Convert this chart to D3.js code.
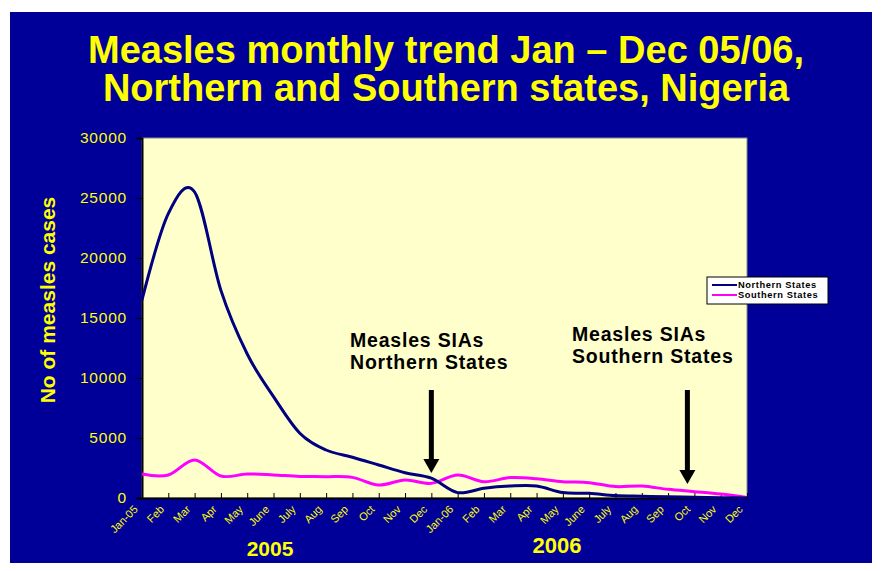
<!DOCTYPE html>
<html>
<head>
<meta charset="utf-8">
<script src="https://cdn.jsdelivr.net/npm/d3@7"></script>
<style>
  html, body { margin: 0; padding: 0; background: #ffffff; }
  svg { display: block; }
  text { font-family: "Liberation Sans", Arial, sans-serif; }
</style>
</head>
<body>
<svg id="chart" width="882" height="571"></svg>
<script>
// ---- data ----
const monthLabels = ["Jan-05","Feb","Mar","Apr","May","June","July","Aug","Sep","Oct","Nov","Dec",
                     "Jan-06","Feb","Mar","Apr","May","June","July","Aug","Sep","Oct","Nov","Dec"];
const northern = [16500, 23700, 25500, 17300, 12000, 8450, 5400, 4000, 3400, 2750, 2100, 1650,
                  450, 820, 1000, 1000, 450, 390, 200, 150, 100, 70, 30, 0];
const southern = [2000, 1920, 3170, 1830, 2000, 1920, 1800, 1780, 1720, 1080, 1500, 1220,
                  1920, 1360, 1700, 1610, 1360, 1280, 950, 1000, 720, 530, 330, 50];
const yTicks = [0, 5000, 10000, 15000, 20000, 25000, 30000];
const seriesNames = ["Northern States", "Southern States"];
const yearLabels = ["2005", "2006"];
const titleLines = ["Measles monthly trend Jan \u2013 Dec 05/06,", "Northern and Southern states, Nigeria"];
const annotations = [
  {lines: ["Measles SIAs", "Northern States"], month: 11},
  {lines: ["Measles SIAs", "Southern States"], month: 21}
];

// ---- layout ----
const svg = d3.select("#chart");
const bg = "#000099", yellow = "#FFFF00", navy = "#000080", pink = "#FF00FF";
const plot = {left: 142, top: 138, right: 747, bottom: 498};

svg.append("rect").attr("x", 10).attr("y", 12).attr("width", 862).attr("height", 551).attr("fill", bg);

// title
svg.selectAll("text.title").data(titleLines).join("text")
  .attr("class", "title")
  .attr("x", 446).attr("y", (d, i) => 63 + i * 38)
  .attr("text-anchor", "middle")
  .attr("font-size", 38).attr("font-weight", "bold")
  .attr("fill", yellow)
  .text(d => d);

const x = d3.scalePoint().domain(d3.range(monthLabels.length)).range([plot.left, plot.right]);
const y = d3.scaleLinear().domain([0, 30000]).range([plot.bottom, plot.top]);

// plot area
svg.append("rect")
  .attr("x", plot.left).attr("y", plot.top)
  .attr("width", plot.right - plot.left).attr("height", plot.bottom - plot.top)
  .attr("fill", "#FFFFCC").attr("stroke", "#888888").attr("stroke-width", 1);

// y axis
const yAxis = svg.append("g").attr("transform", `translate(${plot.left},0)`)
  .call(d3.axisLeft(y).tickValues(yTicks).tickSize(6).tickPadding(9).tickFormat(d3.format("d")));
yAxis.select(".domain").attr("stroke", "#000000").attr("stroke-width", 2);
yAxis.selectAll(".tick line").attr("stroke", "#000000");
yAxis.selectAll(".tick text").attr("fill", yellow).attr("font-size", 15.5)
  .attr("letter-spacing", 0.8).attr("font-family", "Liberation Sans, Arial, sans-serif");

// x axis
const xAxis = svg.append("g").attr("transform", `translate(0,${plot.bottom})`)
  .call(d3.axisBottom(x).tickSize(-5).tickSizeOuter(0).tickFormat(i => monthLabels[i]));
xAxis.select(".domain").attr("stroke", "#000000").attr("stroke-width", 2);
xAxis.selectAll(".tick line").attr("stroke", "#000000");
xAxis.selectAll(".tick text")
  .attr("fill", yellow).attr("font-size", 11)
  .attr("font-family", "Liberation Sans, Arial, sans-serif")
  .attr("text-anchor", "end")
  .attr("dy", null).attr("y", null)
  .attr("transform", "translate(-4,12) rotate(-45)");

// y axis title
svg.append("text")
  .attr("transform", "translate(55,300) rotate(-90)")
  .attr("text-anchor", "middle")
  .attr("font-size", 21).attr("font-weight", "bold").attr("fill", yellow)
  .text("No of measles cases");

// year labels
svg.selectAll("text.year").data(yearLabels).join("text")
  .attr("class", "year")
  .attr("x", (d, i) => i === 0 ? 270 : 557)
  .attr("y", (d, i) => i === 0 ? 556 : 553)
  .attr("text-anchor", "middle")
  .attr("font-size", (d, i) => i === 0 ? 21 : 22).attr("font-weight", "bold").attr("fill", yellow)
  .text(d => d);

// lines
const line = d3.line().x((d, i) => x(i)).y(d => y(d)).curve(d3.curveCardinal.tension(0));
svg.append("path").datum(southern).attr("d", line)
  .attr("fill", "none").attr("stroke", pink).attr("stroke-width", 3);
svg.append("path").datum(northern).attr("d", line)
  .attr("fill", "none").attr("stroke", navy).attr("stroke-width", 3);

// annotations
const annX = [350, 572], annY = [347, 341], arrowShift = [0, -7];
annotations.forEach((a, k) => {
  const t = svg.append("text").attr("font-size", 19.5).attr("font-weight", "bold")
    .attr("fill", "#000000").attr("letter-spacing", 0.8);
  a.lines.forEach((l, j) => {
    t.append("tspan").attr("x", annX[k]).attr("y", annY[k] + j * 22).text(l);
  });
  const ax = x(a.month) + arrowShift[k];
  const tipY = k === 0 ? 473 : 484;
  const topY = 390;
  svg.append("rect").attr("x", ax - 2.5).attr("y", topY).attr("width", 5).attr("height", tipY - topY - 12)
    .attr("fill", "#000000");
  svg.append("path")
    .attr("d", `M${ax - 8},${tipY - 14} L${ax + 8},${tipY - 14} L${ax},${tipY} Z`)
    .attr("fill", "#000000");
});

// legend
const lg = svg.append("g").attr("transform", "translate(707,277)");
lg.append("rect").attr("width", 121).attr("height", 27).attr("fill", "#ffffff")
  .attr("stroke", "#000000").attr("stroke-width", 1);
seriesNames.forEach((n, i) => {
  lg.append("line").attr("x1", 5).attr("x2", 30).attr("y1", 8 + i * 10).attr("y2", 8 + i * 10)
    .attr("stroke", i === 0 ? navy : pink).attr("stroke-width", 2);
  lg.append("text").attr("x", 31).attr("y", 11.3 + i * 10)
    .attr("font-size", 9.3).attr("font-weight", "bold").attr("fill", "#000000")
    .attr("letter-spacing", 0.6)
    .text(n);
});
</script>
</body>
</html>
